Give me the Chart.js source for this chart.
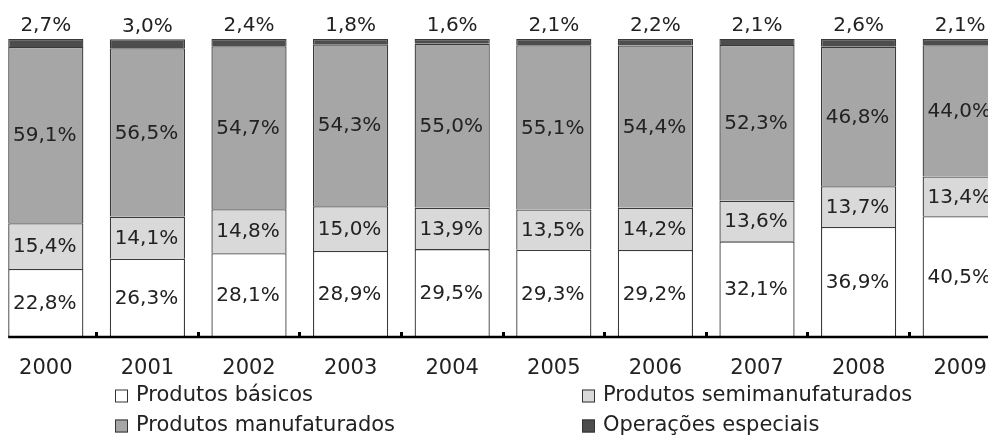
<!DOCTYPE html>
<html>
<head>
<meta charset="utf-8">
<script src="https://cdn.jsdelivr.net/npm/chart.js@4/dist/chart.umd.min.js"></script>
<style>
    html, body { margin: 0; padding: 0; background: #fff; overflow: hidden; }
    #wrap { position: absolute; left: -5px; top: 0; width: 1016px; height: 436px; }
</style>
</head>
<body>
<div id="wrap"><canvas id="mycanvas"></canvas></div>
<script>
var years = ['2000', '2001', '2002', '2003', '2004', '2005', '2006', '2007', '2008', '2009'];
var basicos = [22.8, 26.3, 28.1, 28.9, 29.5, 29.3, 29.2, 32.1, 36.9, 40.5];
var semimanufaturados = [15.4, 14.1, 14.8, 15.0, 13.9, 13.5, 14.2, 13.6, 13.7, 13.4];
var manufaturados = [59.1, 56.5, 54.7, 54.3, 55.0, 55.1, 54.4, 52.3, 46.8, 44.0];
var especiais = [2.7, 3.0, 2.4, 1.8, 1.6, 2.1, 2.2, 2.1, 2.6, 2.1];

var FONT = '"DejaVu Sans", Verdana, sans-serif';

function fmt(v) {
    return v.toFixed(1).replace('.', ',') + '%';
}

// value labels: inside the segments, the last series sits above the bar
var valueLabels = {
    id: 'valueLabels',
    afterDatasetsDraw: function(chart) {
        var ctx = chart.ctx;
        var n = chart.data.datasets.length;
        ctx.save();
        ctx.font = '20px ' + FONT;
        ctx.fillStyle = '#222';
        ctx.textAlign = 'center';
        chart.data.datasets.forEach(function(ds, i) {
            var meta = chart.getDatasetMeta(i);
            meta.data.forEach(function(bar, j) {
                if (i == n - 1) {
                    ctx.textBaseline = 'bottom';
                    ctx.fillText(fmt(ds.data[j]), bar.x, bar.y - 3);
                } else {
                    ctx.textBaseline = 'middle';
                    ctx.fillText(fmt(ds.data[j]), bar.x - 1, (bar.y + bar.base) / 2 + 1);
                }
            });
        });
        ctx.restore();
    }
};

// axis line from the first bar onwards + two-column legend below
var axisAndLegend = {
    id: 'axisAndLegend',
    afterDraw: function(chart) {
        var ctx = chart.ctx;
        var area = chart.chartArea;
        var first = chart.getDatasetMeta(0).data[0];
        ctx.save();
        ctx.strokeStyle = '#000';
        ctx.lineWidth = 2.5;
        ctx.beginPath();
        ctx.moveTo(first.x - first.width / 2, area.bottom);
        ctx.lineTo(area.right, area.bottom);
        ctx.stroke();

        var cols = [120, 587];
        var rows = [396, 426];
        ctx.font = '21px ' + FONT;
        ctx.textBaseline = 'middle';
        ctx.textAlign = 'left';
        chart.data.datasets.forEach(function(ds, i) {
            var x = cols[i % 2];
            var y = rows[Math.floor(i / 2)];
            ctx.fillStyle = ds.backgroundColor;
            ctx.fillRect(x, y - 6.5, 13, 13);
            ctx.strokeStyle = '#333';
            ctx.lineWidth = 1;
            ctx.strokeRect(x + 0.5, y - 6, 12, 12);
            ctx.fillStyle = '#222';
            ctx.fillText(ds.label, x + 21, y);
        });
        ctx.restore();
    }
};

var chartdata = {
    labels: years,
    datasets: [{
        label: 'Produtos básicos',
        backgroundColor: '#ffffff',
        data: basicos
    }, {
        label: 'Produtos semimanufaturados',
        backgroundColor: '#d9d9d9',
        data: semimanufaturados
    }, {
        label: 'Produtos manufaturados',
        backgroundColor: '#a6a6a6',
        data: manufaturados
    }, {
        label: 'Operações especiais',
        backgroundColor: '#4d4d4d',
        data: especiais
    }]
};

chartdata.datasets.forEach(function(ds) {
    ds.borderColor = '#3a3a3a';
    ds.borderWidth = 1.3;
    ds.borderSkipped = 'start';
    ds.categoryPercentage = 1;
    ds.barPercentage = 0.74;
});

var ctx = document.getElementById('mycanvas');

var barGraph = new Chart(ctx, {
    type: 'bar',
    data: chartdata,
    plugins: [valueLabels, axisAndLegend],
    options: {
        responsive: true,
        maintainAspectRatio: false,
        animation: false,
        layout: { padding: { top: 39, left: 0, right: 0, bottom: 0 } },
        plugins: {
            legend: { display: false },
            tooltip: { enabled: false }
        },
        scales: {
            x: {
                stacked: true,
                offset: true,
                afterFit: function(scale) { scale.height = 99; },
                border: { display: false },
                grid: {
                    offset: true,
                    drawOnChartArea: false,
                    drawTicks: true,
                    tickLength: -5,
                    lineWidth: 3,
                    color: '#000'
                },
                ticks: {
                    padding: 24,
                    color: '#222',
                    font: { family: FONT, size: 21 },
                    maxRotation: 0,
                    autoSkip: false
                }
            },
            y: {
                stacked: true,
                display: false,
                min: 0,
                max: 100
            }
        }
    }
});
</script>
</body>
</html>
